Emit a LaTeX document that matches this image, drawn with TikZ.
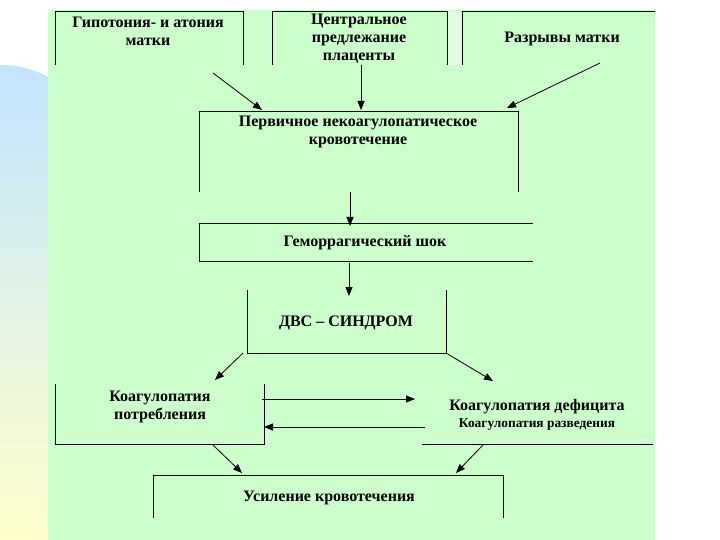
\documentclass[tikz,border=0pt]{standalone}
\usepackage{fontspec}
\setmainfont{Liberation Serif}
\usetikzlibrary{arrows.meta}
\definecolor{bggreen}{RGB}{204,255,204}
\definecolor{lightstrip}{RGB}{226,252,226}
\definecolor{decoblue}{RGB}{196,228,255}
\definecolor{decoyellow}{RGB}{255,255,204}
\begin{document}
\begin{tikzpicture}[x=1bp,y=-1bp,
  lbl/.style={font=\bfseries\fontsize{16bp}{18bp}\selectfont, align=center, inner sep=0pt},
  sml/.style={font=\bfseries\fontsize{13.4bp}{15bp}\selectfont, align=center, inner sep=0pt},
  frame/.style={line width=0.9bp, draw=black},
  arr/.style={line width=0.8bp, -{Triangle[length=9bp,width=7bp]}}]
\useasboundingbox (0,0) rectangle (720,540);
\fill[white] (0,0) rectangle (720,540);
% left decoration
\shade[top color=decoblue, bottom color=decoyellow]
  (0,65) .. controls (18,65) and (34,69) .. (48,77) -- (48,540) -- (0,540) -- cycle;
% green panel
\fill[bggreen] (48,10) rectangle (655,540);
\fill[lightstrip] (448,11) rectangle (461,65);

% box frames
\draw[frame] (55,65) -- (55,11) -- (243,11) -- (243,65);
\draw[frame] (272,65) -- (272,11) -- (447,11) -- (447,65);
\draw[frame] (462,65) -- (462,11) -- (655,11);
\draw[frame] (199,192) -- (199,111) -- (518,111) -- (518,192);
\draw[frame] (533,223) -- (199,223) -- (199,261) -- (533,261);
\draw[frame] (247,290) -- (247,353) -- (446,353) -- (446,290);
\draw[frame] (55,384) -- (55,444) -- (264,444) -- (264,384);
\draw[frame] (422,444) -- (653,444);
\draw[frame] (153,518) -- (153,475) -- (503,475) -- (503,518);

% texts
\node[lbl] (t1) at (148,31) {Гипотония- и атония\\матки};
\node[lbl] (t2) at (359,38.5) {Центральное\\предлежание\\плаценты};
\node[lbl] (t3) at (562,39) {Разрывы матки};
\node[lbl] (t4) at (358,131.5) {Первичное некоагулопатическое\\кровотечение};
\node[lbl] (t5) at (365,243) {Геморрагический шок};
\node[lbl] (t6) at (346,323) {ДВС – СИНДРОМ};
\node[lbl] (t7) at (160,406.5) {Коагулопатия\\потребления};
\node[lbl] (t8) at (537,407) {Коагулопатия дефицита};
\node[sml] (t8b) at (537,425) {Коагулопатия разведения};
\node[lbl] (t9) at (329,498) {Усиление кровотечения};

% arrow end points
\coordinate (a1s) at (213,73);  \coordinate (a1e) at (262,110);
\coordinate (a2s) at (361,65);  \coordinate (a2e) at (361,110);
\coordinate (a3s) at (600,63);  \coordinate (a3e) at (507,108);
\coordinate (a4s) at (350,192); \coordinate (a4e) at (350,226);
\coordinate (a5s) at (349,263); \coordinate (a5e) at (349,296);
\coordinate (a6s) at (243,353); \coordinate (a6e) at (215,380);
\coordinate (a7s) at (446,353); \coordinate (a7e) at (493,381);
\coordinate (a8s) at (262,399); \coordinate (a8e) at (415,399);
\coordinate (a9s) at (425,427); \coordinate (a9e) at (264,427);
\coordinate (a10s) at (213,445); \coordinate (a10e) at (242,473);
\coordinate (a11s) at (483,445); \coordinate (a11e) at (456,473);

\foreach \i in {1,...,11} {\draw[arr] (a\i s) -- (a\i e);}
\end{tikzpicture}
\end{document}
